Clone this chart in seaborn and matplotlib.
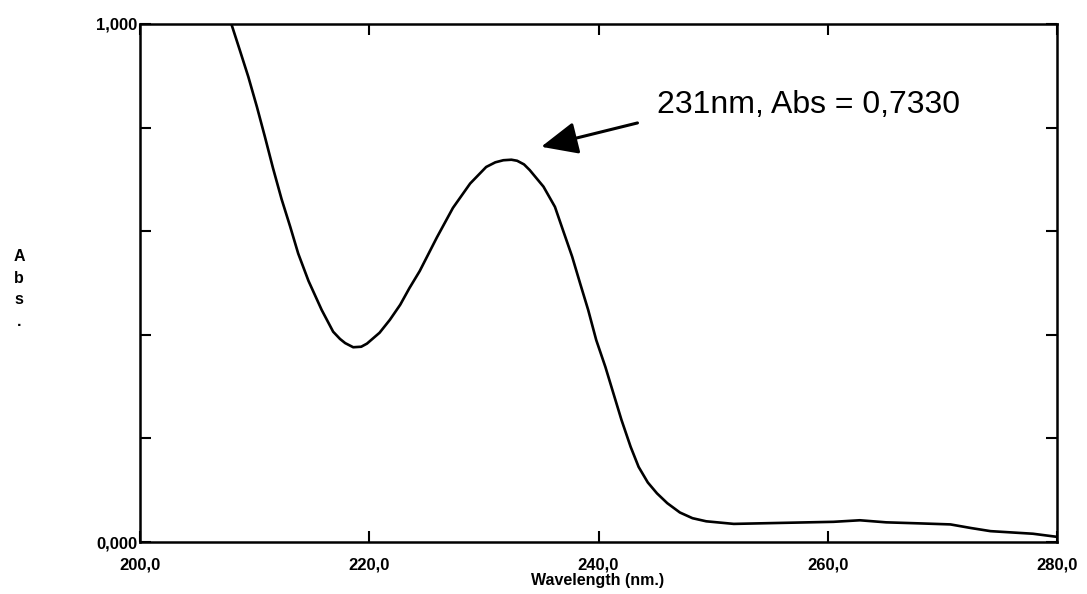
import matplotlib
matplotlib.use("Agg")
import matplotlib.pyplot as plt
import seaborn as sns
import pandas as pd

# Spectrum data (wavelength in nm, absorbance)
wavelength = [208.0, 208.7, 209.45, 210.2, 210.9, 211.6, 212.35, 213.1, 213.8, 214.7,
              215.85, 216.85, 217.45, 217.9, 218.6, 219.3, 219.8, 220.9, 221.8, 222.7,
              223.5, 224.4, 225.9, 227.3, 228.8, 230.2, 231.0, 231.7, 232.4, 232.9,
              233.5, 234.0, 235.2, 236.2, 236.9, 237.7, 238.4, 239.1, 239.8, 240.6,
              241.3, 242.0, 242.8, 243.5, 244.3, 245.1, 246.0, 247.1, 248.2, 249.4,
              251.8, 256.1, 260.5, 262.8, 265.1, 268.0, 270.7, 272.5, 274.2, 277.9,
              280.0]
absorbance = [0.998, 0.950, 0.898, 0.840, 0.782, 0.722, 0.662, 0.609, 0.557, 0.504,
              0.448, 0.406, 0.392, 0.384, 0.376, 0.377, 0.383, 0.404, 0.429, 0.458,
              0.490, 0.523, 0.588, 0.645, 0.692, 0.724, 0.733, 0.737, 0.738, 0.736,
              0.729, 0.718, 0.686, 0.647, 0.602, 0.551, 0.499, 0.448, 0.390, 0.338,
              0.287, 0.236, 0.184, 0.145, 0.115, 0.094, 0.075, 0.057, 0.046, 0.040,
              0.035, 0.037, 0.039, 0.042, 0.038, 0.036, 0.034, 0.027, 0.021, 0.016,
              0.010]

x_ticks = [200, 220, 240, 260, 280]
x_tick_labels = ["200,0", "220,0", "240,0", "260,0", "280,0"]
y_ticks = [0.0, 0.2, 0.4, 0.6, 0.8, 1.0]
y_tick_labels = ["0,000", "", "", "", "", "1,000"]

annotation_text = "231nm, Abs = 0,7330"
x_label = "Wavelength (nm.)"
y_label = "A\nb\ns\n."

df = pd.DataFrame({"wl": wavelength, "abs": absorbance})

sns.set_style("ticks")
plt.rcParams["font.family"] = ["Liberation Sans", "DejaVu Sans"]
plt.rcParams["text.color"] = "black"
plt.rcParams["xtick.color"] = "black"
plt.rcParams["ytick.color"] = "black"

fig = plt.figure(figsize=(10.87, 5.94), dpi=100)
ax = fig.add_axes([0.1288, 0.0875, 0.9724 - 0.1288, 0.9596 - 0.0875])

sns.lineplot(data=df, x="wl", y="abs", color="black", linewidth=1.9, ax=ax, sort=False)

ax.set_xlim(200, 280)
ax.set_ylim(0, 1)
ax.set_xticks(x_ticks)
ax.set_xticklabels(x_tick_labels, fontsize=12, fontweight="bold", color="black")
ax.set_yticks(y_ticks)
ax.set_yticklabels(y_tick_labels, fontsize=12, fontweight="bold", color="black")
ax.tick_params(axis="both", direction="in", top=True, right=True, length=8, width=1.5,
               color="black", labelcolor="black")
ax.tick_params(axis="x", pad=11)
ax.tick_params(axis="y", pad=2)
for s in ax.spines.values():
    s.set_visible(True)
    s.set_linewidth(1.8)
    s.set_color("black")

ax.set_xlabel("")
ax.set_ylabel("")
fig.text(598 / 1087, 1 - 580 / 594, x_label, ha="center", va="center",
         fontsize=11.5, fontweight="bold", color="black")
fig.text(19 / 1087, 1 - 289 / 594, y_label, ha="center", va="center",
         fontsize=11.5, fontweight="bold", linespacing=1.55, color="black")

ax.text(245.1, 0.844, annotation_text, ha="left", va="center", fontsize=23, color="black")
ax.annotate("", xy=(235.0, 0.763), xytext=(243.4, 0.809),
            arrowprops=dict(arrowstyle="-|>,head_length=0.9,head_width=0.4",
                            color="black", lw=2.2, mutation_scale=25,
                            shrinkA=0, shrinkB=0))

fig.savefig("out.png", dpi=100, facecolor="white")
